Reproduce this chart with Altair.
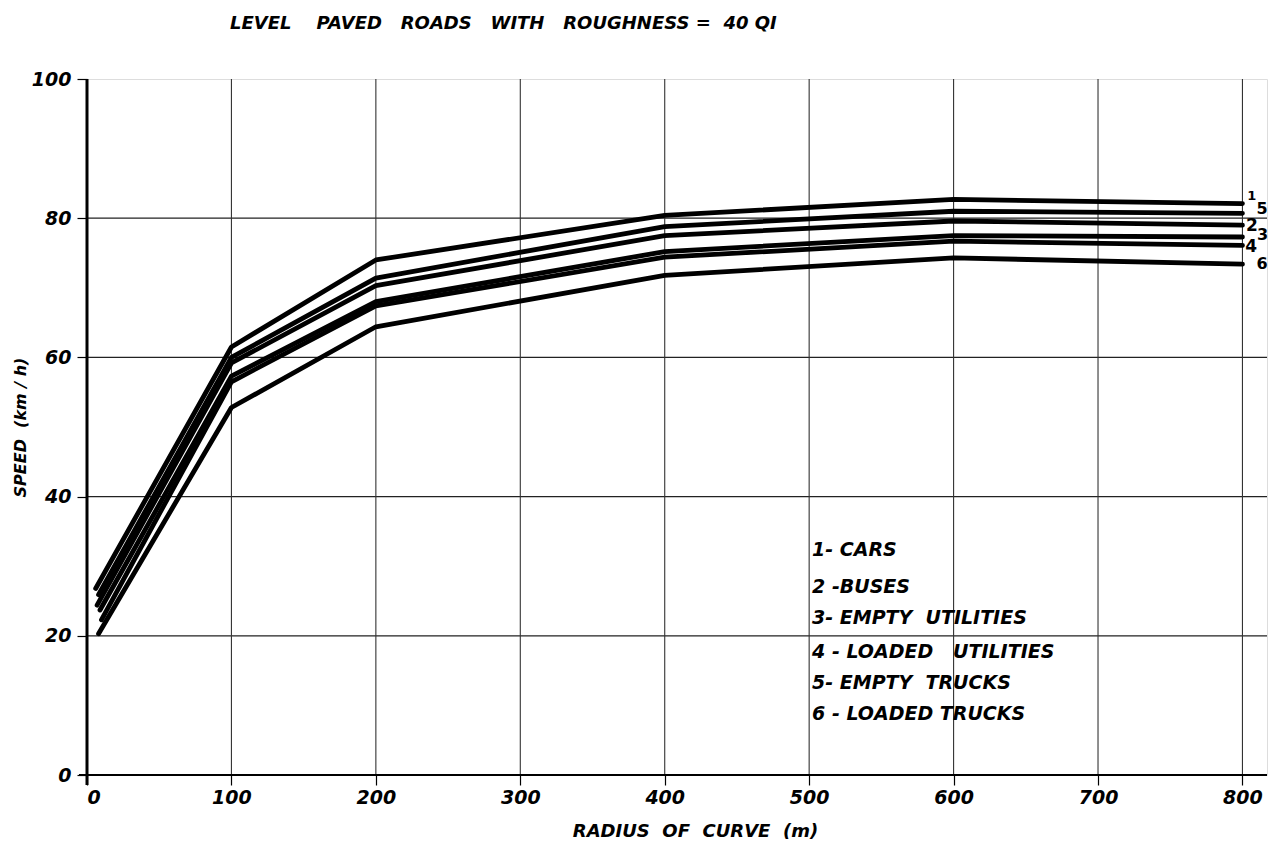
import altair as alt
import pandas as pd

# ---- data ----
series_ids = ["1", "5", "2", "3", "4", "6"]
series_names = ["CARS", "EMPTY TRUCKS", "BUSES", "EMPTY UTILITIES", "LOADED UTILITIES", "LOADED TRUCKS"]
start_x = [6, 8, 7, 9, 10, 8]
radius = [100, 200, 400, 600, 800]
speed_1 = [26.8, 61.5, 74.0, 80.4, 82.7, 82.1]
speed_5 = [25.9, 60.0, 71.4, 78.8, 81.0, 80.7]
speed_2 = [24.4, 59.2, 70.3, 77.5, 79.6, 79.0]
speed_3 = [23.7, 57.3, 68.0, 75.2, 77.5, 77.3]
speed_4 = [22.3, 56.5, 67.4, 74.4, 76.7, 76.1]
speed_6 = [20.3, 52.8, 64.4, 71.8, 74.3, 73.4]
all_speeds = [speed_1, speed_5, speed_2, speed_3, speed_4, speed_6]

# end-of-line labels (number, x, y in data units)
end_label_text = ["1", "5", "2", "3", "4", "6"]
end_label_x = [806.5, 813.5, 806.5, 814, 806, 813.5]
end_label_y = [83.2, 81.3, 78.9, 77.6, 75.9, 73.4]
end_label_size = [13, 16, 17, 16, 17, 16]

NB = "\u00a0"
# key text inside the plot
key_lines = ["1- CARS", "2 -BUSES", f"3- EMPTY{NB}{NB}UTILITIES", f"4 - LOADED{NB}{NB}{NB}UTILITIES",
             f"5- EMPTY{NB}{NB}TRUCKS", "6 - LOADED TRUCKS"]
key_x = 502
key_y = [32.3, 27.0, 22.5, 17.7, 13.2, 8.8]

x_ticks = [0, 100, 200, 300, 400, 500, 600, 700, 800]
y_ticks = [0, 20, 40, 60, 80, 100]
h_grid = [20, 40, 60, 80]
v_grid = [100, 200, 300, 400, 500, 600, 700, 800]

FONT = "DejaVu Sans"
W, H = 1180, 696

rows = []
for sid, sx, sp in zip(series_ids, start_x, all_speeds):
    xs = [sx] + radius
    for i, (xv, yv) in enumerate(zip(xs, sp)):
        rows.append({"series": sid, "radius": xv, "speed": yv, "order": i})
df = pd.DataFrame(rows)

xscale = alt.Scale(domain=[0, 817], nice=False, zero=False)
yscale = alt.Scale(domain=[0, 100], nice=False, zero=False)

base_x_axis = alt.Axis(values=x_ticks, grid=False, domain=False, tickSize=10, tickColor="black",
                       tickWidth=1.2, labelFont=FONT, labelFontStyle="italic", labelFontSize=19,
                       labelFontWeight="bold", labelColor="black", labelPadding=3,
                       title=f"RADIUS{NB}{NB}OF{NB}{NB}CURVE{NB}{NB}(m)",
                       titleFont=FONT, titleFontStyle="italic", titleFontWeight="bold",
                       titleFontSize=18, titleColor="black", titlePadding=15, titleX=608)
base_y_axis = alt.Axis(values=y_ticks, grid=False, domain=False, tickSize=10, tickColor="black",
                       tickWidth=1.2, labelFont=FONT, labelFontStyle="italic", labelFontSize=19,
                       labelFontWeight="bold", labelColor="black", labelPadding=6,
                       title=f"SPEED{NB}{NB}(km{NB}/{NB}h)",
                       titleFont=FONT, titleFontStyle="italic", titleFontWeight="bold",
                       titleFontSize=16, titleColor="black", titlePadding=3)

hgrid = alt.Chart(pd.DataFrame({"y": h_grid})).mark_rule(color="#222", strokeWidth=1.2).encode(
    y=alt.Y("y:Q", scale=yscale, axis=base_y_axis),
    x=alt.value(0), x2=alt.value(W))

vgrid = alt.Chart(pd.DataFrame({"x": v_grid})).mark_rule(color="#333", strokeWidth=1.1).encode(
    x=alt.X("x:Q", scale=xscale, axis=base_x_axis),
    y=alt.value(0), y2=alt.value(H))

axis_lines = alt.Chart(pd.DataFrame({"x": [0]})).mark_rule(color="black", strokeWidth=3).encode(
    x=alt.X("x:Q", scale=xscale), y=alt.value(0), y2=alt.value(H + 10))
base_line = alt.Chart(pd.DataFrame({"y": [0]})).mark_rule(color="black", strokeWidth=2.2).encode(
    y=alt.Y("y:Q", scale=yscale), x=alt.value(-8), x2=alt.value(W))

lines = alt.Chart(df).mark_line(color="black", strokeWidth=4.8, strokeJoin="round", strokeCap="round").encode(
    x=alt.X("radius:Q", scale=xscale),
    y=alt.Y("speed:Q", scale=yscale),
    detail="series:N",
    order="order:Q")

end_labels = alt.Chart(pd.DataFrame({"t": end_label_text, "x": end_label_x, "y": end_label_y,
                                     "s": end_label_size})).mark_text(
    font=FONT, color="black", fontWeight="bold", align="center", baseline="middle").encode(
    x=alt.X("x:Q", scale=xscale), y=alt.Y("y:Q", scale=yscale), text="t:N",
    size=alt.Size("s:Q", scale=None, legend=None))

key = alt.Chart(pd.DataFrame({"t": key_lines, "x": [key_x] * len(key_lines), "y": key_y})).mark_text(
    font=FONT, color="black", fontSize=19, fontStyle="italic", fontWeight="bold",
    align="left", baseline="middle").encode(
    x=alt.X("x:Q", scale=xscale), y=alt.Y("y:Q", scale=yscale), text="t:N")

title_text = (f"LEVEL{NB}{NB}{NB}{NB}PAVED{NB}{NB}{NB}ROADS{NB}{NB}{NB}WITH{NB}{NB}{NB}"
              f"ROUGHNESS{NB}={NB}{NB}40{NB}QI")

chart = alt.layer(hgrid, vgrid, axis_lines, base_line, lines, end_labels, key).properties(
    width=W, height=H,
    title=alt.TitleParams(title_text, anchor="start", frame="group", dx=143,
                          offset=37, font=FONT, fontSize=18, fontStyle="italic", fontWeight="bold",
                          color="black"),
    autosize=alt.AutoSizeParams(type="none"),
    padding={"left": 79, "top": 71, "right": 1, "bottom": 70},
).configure_view(stroke=None).configure(background="white")

chart.save("out.html", embed_options={"renderer": "svg", "actions": False})
